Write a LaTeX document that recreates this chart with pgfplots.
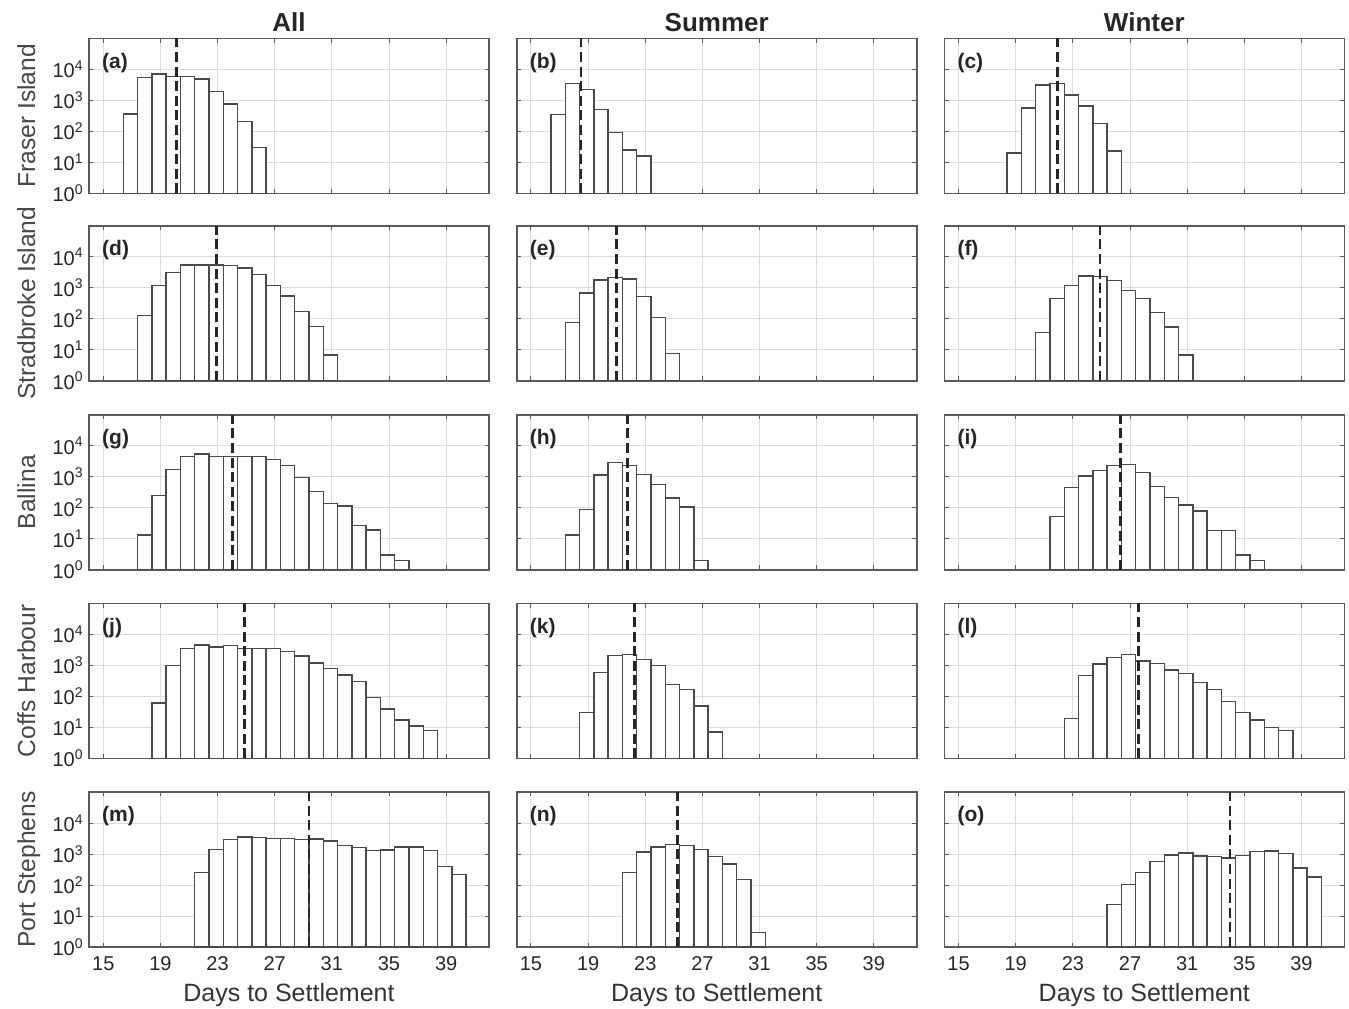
\documentclass[border=0pt]{standalone}
\usepackage{pgfplots}
\pgfplotsset{compat=1.18}
\usepackage{fontspec}
\setmainfont{Liberation Sans}
\definecolor{framec}{HTML}{5A5A5A}
\definecolor{barc}{HTML}{4A4A4A}
\definecolor{gridc}{HTML}{DCDCDC}
\definecolor{textc}{HTML}{262626}
\pgfplotsset{
  every axis title/.style={at={(axis description cs:0.5,1.045)}, anchor=base, font=\bfseries\fontsize{13}{15}\selectfont, text=black!85},
  histax/.style={
    scale only axis, width=200pt, height=77.5pt, anchor=north west,
    xmin=14, xmax=42, ymin=1, ymax=1e5,
    xtick={15,19,23,27,31,35,39},
    ytick={1,10,100,1000,10000},
    xticklabels={}, yticklabels={},
    minor tick num=0, yminorticks=false, yminorgrids=false,
    grid=major, major grid style={gridc, line width=0.5pt},
    tick align=inside, major tick length=2.2pt,
    tick style={framec, line width=0.5pt},
    axis line style={framec, line width=0.8pt},
    tick label style={font=\fontsize{10}{12}\selectfont, text=textc},
    xticklabel style={anchor=base, yshift=-11.5pt},
    yticklabel style={anchor=east, inner sep=0pt, xshift=-2.5pt},
    ylabel style={at={(axis description cs:-0.135,0.5)}, anchor=base, font=\fontsize{12.3}{14}\selectfont, text=black!72},
    xlabel style={at={(axis description cs:0.5,-0.35)}, anchor=base, font=\fontsize{12.5}{14}\selectfont, text=black!80},
  },
  ylab/.style={yticklabels={10\textsuperscript{0},10\textsuperscript{1},10\textsuperscript{2},10\textsuperscript{3},10\textsuperscript{4}}},
  xlab/.style={xticklabels={15,19,23,27,31,35,39}, xlabel={Days to Settlement}},
  mybars/.style={ybar, bar width=1, bar shift=0pt, fill=white, draw=barc, line width=0.7pt},
  dashline/.style={black!85, line width=1.4pt, dash pattern=on 5pt off 2.3pt},
}
\tikzset{plab/.style={anchor=west, inner sep=0pt, font=\bfseries\fontsize{10.5}{12}\selectfont, text=black!85}}
\newcommand{\panel}[6]{%
  \begin{semilogyaxis}[histax, at={(#1)}, #2]
    \addplot[mybars] coordinates {#3};
    \addplot[dashline] coordinates {(#4,1) (#4,1e5)};
    \node[plab] at (rel axis cs:0.032,0.843) {#5};
  \end{semilogyaxis}#6}
\begin{document}
\begin{tikzpicture}
\useasboundingbox (0,0) rectangle (674.5pt,-504pt);
% Row 1: Fraser Island
\panel{44.5pt,-19.15pt}{ylab, ylabel={Fraser Island}, title={All}}
 {(16.9,365) (17.9,5500) (18.9,7000) (19.9,5800) (20.9,5900) (21.9,4800) (22.9,1950) (23.9,750) (24.9,205) (25.9,30)}
 {20.1}{(a)}{}
\panel{258.35pt,-19.15pt}{title={Summer}}
 {(16.9,355) (17.9,3450) (18.9,2250) (19.9,515) (20.9,91) (21.9,25) (22.9,16)}
 {18.5}{(b)}{}
\panel{472.15pt,-19.15pt}{title={Winter}}
 {(18.9,20) (19.9,570) (20.9,3100) (21.9,3450) (22.9,1480) (23.9,665) (24.9,178) (25.9,23)}
 {21.9}{(c)}{}
% Row 2: Stradbroke Island
\panel{44.5pt,-112.85pt}{ylab, ylabel={Stradbroke Island}}
 {(17.9,128) (18.9,1180) (19.9,3100) (20.9,5350) (21.9,5350) (22.9,5350) (23.9,5100) (24.9,4300) (25.9,2680) (26.9,1200) (27.9,545) (28.9,168) (29.9,55) (30.9,6.8)}
 {22.9}{(d)}{}
\panel{258.35pt,-112.85pt}{}
 {(17.9,74) (18.9,680) (19.9,1790) (20.9,2090) (21.9,1900) (22.9,530) (23.9,108) (24.9,7.7)}
 {20.96}{(e)}{}
\panel{472.15pt,-112.85pt}{}
 {(20.9,36) (21.9,455) (22.9,1180) (23.9,2400) (24.9,2300) (25.9,1700) (26.9,830) (27.9,455) (28.9,161) (29.9,54) (30.9,6.8)}
 {24.9}{(f)}{}
% Row 3: Ballina
\panel{44.5pt,-207.35pt}{ylab, ylabel={Ballina}}
 {(17.9,13) (18.9,250) (19.9,1730) (20.9,4450) (21.9,5400) (22.9,4450) (23.9,4450) (24.9,4450) (25.9,4450) (26.9,3630) (27.9,2250) (28.9,930) (29.9,335) (30.9,138) (31.9,113) (32.9,27) (33.9,19) (34.9,3) (35.9,2)}
 {24.05}{(g)}{}
\panel{258.35pt,-207.35pt}{}
 {(17.9,13) (18.9,89) (19.9,1150) (20.9,2900) (21.9,2250) (22.9,1200) (23.9,550) (24.9,204) (25.9,105) (26.9,2)}
 {21.74}{(h)}{}
\panel{472.15pt,-207.35pt}{}
 {(21.9,52) (22.9,455) (23.9,1050) (24.9,1600) (25.9,2330) (26.9,2450) (27.9,1350) (28.9,490) (29.9,215) (30.9,122) (31.9,78) (32.9,18) (33.9,18) (34.9,3) (35.9,2)}
 {26.36}{(i)}{}
% Row 4: Coffs Harbour
\panel{44.5pt,-301.65pt}{ylab, ylabel={Coffs Harbour}}
 {(18.9,61) (19.9,1000) (20.9,3450) (21.9,4550) (22.9,3900) (23.9,4300) (24.9,3550) (25.9,3550) (26.9,3550) (27.9,2830) (28.9,2000) (29.9,1190) (30.9,800) (31.9,490) (32.9,297) (33.9,93) (34.9,39) (35.9,17) (36.9,11) (37.9,8)}
 {24.9}{(j)}{}
\panel{258.35pt,-301.65pt}{}
 {(18.9,30) (19.9,580) (20.9,2050) (21.9,2250) (22.9,1560) (23.9,980) (24.9,245) (25.9,164) (26.9,48) (27.9,7)}
 {22.23}{(k)}{}
\panel{472.15pt,-301.65pt}{}
 {(22.9,19.5) (23.9,465) (24.9,1100) (25.9,1780) (26.9,2250) (27.9,1380) (28.9,1150) (29.9,710) (30.9,540) (31.9,283) (32.9,169) (33.9,69) (34.9,30) (35.9,17) (36.9,10) (37.9,8)}
 {27.58}{(l)}{}
% Row 5: Port Stephens
\panel{44.5pt,-396pt}{ylab, xlab, ylabel={Port Stephens}}
 {(21.9,257) (22.9,1410) (23.9,2900) (24.9,3540) (25.9,3370) (26.9,3120) (27.9,3120) (28.9,2900) (29.9,3030) (30.9,2630) (31.9,1900) (32.9,1650) (33.9,1290) (34.9,1350) (35.9,1690) (36.9,1690) (37.9,1290) (38.9,400) (39.9,215)}
 {29.4}{(m)}{}
\panel{258.35pt,-396pt}{xlab}
 {(21.9,250) (22.9,1150) (23.9,1700) (24.9,2000) (25.9,1900) (26.9,1400) (27.9,850) (28.9,480) (29.9,150) (30.9,3)}
 {25.25}{(n)}{}
\panel{472.15pt,-396pt}{xlab}
 {(25.9,24) (26.9,102) (27.9,257) (28.9,570) (29.9,930) (30.9,1080) (31.9,860) (32.9,820) (33.9,740) (34.9,905) (35.9,1230) (36.9,1250) (37.9,1020) (38.9,355) (39.9,180)}
 {34.0}{(o)}{}
\end{tikzpicture}
\end{document}
